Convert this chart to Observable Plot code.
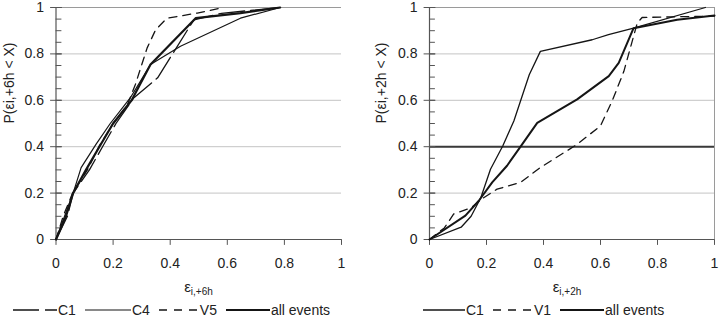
<!DOCTYPE html>
<html><head><meta charset="utf-8">
<script src="https://cdn.jsdelivr.net/npm/d3@7"></script>
<script src="https://cdn.jsdelivr.net/npm/@observablehq/plot@0.6"></script>
<style>
body{margin:0;background:#fff;font-family:"Liberation Sans",Arial,sans-serif;color:#222}
#wrap{position:relative;width:725px;height:321px;overflow:hidden}
.xlab{position:absolute;font-size:15px;line-height:15px;white-space:nowrap;transform:translateX(-50%)}
.xlab sub{font-size:10px;vertical-align:-3px;line-height:0}
.legend{position:absolute;display:flex;align-items:center;font-size:14px;line-height:16px;white-space:nowrap}
.legend .item{display:flex;align-items:center;margin-right:9px}
.legend svg{margin-right:1px;display:block}
</style></head><body>
<div id="wrap"></div>
<script>
// ---- data: left panel (eps i,+6h) ----
const left_C1 = [[0,0],[0.04,0.1],[0.06,0.2],[0.117,0.3],[0.163,0.4],[0.21,0.5],[0.272,0.61],[0.356,0.697],[0.483,0.947],[0.58,0.975],[0.785,1.0]];
const left_C4 = [[0,0],[0.03,0.1],[0.06,0.2],[0.088,0.31],[0.14,0.41],[0.19,0.5],[0.26,0.61],[0.331,0.754],[0.436,0.833],[0.646,0.954],[0.785,1.0]];
const left_V5 = [[0,0],[0.025,0.1],[0.058,0.2],[0.11,0.3],[0.15,0.4],[0.2,0.5],[0.25,0.58],[0.278,0.668],[0.319,0.825],[0.349,0.904],[0.389,0.954],[0.495,0.976],[0.587,1.0]];
const left_all = [[0,0],[0.035,0.1],[0.06,0.2],[0.105,0.3],[0.152,0.4],[0.2,0.5],[0.265,0.6],[0.331,0.754],[0.489,0.954],[0.646,0.976],[0.785,1.0]];
// ---- data: right panel (eps i,+2h) ----
const right_C1 = [[0,0],[0.111,0.053],[0.146,0.1],[0.18,0.18],[0.214,0.303],[0.257,0.403],[0.296,0.511],[0.35,0.71],[0.389,0.811],[0.571,0.861],[0.628,0.883],[0.716,0.911],[0.968,1.0]];
const right_V1 = [[0,0],[0.052,0.05],[0.085,0.11],[0.146,0.137],[0.19,0.18],[0.237,0.217],[0.319,0.246],[0.389,0.31],[0.518,0.41],[0.6,0.49],[0.641,0.597],[0.682,0.725],[0.729,0.933],[0.746,0.957],[0.869,0.96],[1.0,0.963]];
const right_all = [[0,0],[0.126,0.103],[0.173,0.167],[0.22,0.246],[0.272,0.318],[0.325,0.41],[0.378,0.503],[0.518,0.604],[0.629,0.704],[0.664,0.761],[0.716,0.911],[0.869,0.947],[1.0,0.966]];
const right_ref = [0.4];
// ---- ticks & labels ----
const majorTicks = [0, 0.2, 0.4, 0.6, 0.8, 1];
const tickLabels = ["0", "0.2", "0.4", "0.6", "0.8", "1"];
const minorTicks = [0.05,0.1,0.15,0.2,0.25,0.3,0.35,0.4,0.45,0.5,0.55,0.6,0.65,0.7,0.75,0.8,0.85,0.9,0.95,1];
const gridLines = [0.2, 0.4, 0.6, 0.8];
const leftYLabel = "P(\u03b5i,+6h < X)";
const rightYLabel = "P(\u03b5i,+2h < X)";
const leftXSub = "i,+6h";
const rightXSub = "i,+2h";
const leftLegend = [["C1","26,6",1.3,44],["C4",null,1.2,46],["V5","8,7",1.3,40],["all events",null,2.2,44]];
const rightLegend = [["C1",null,1.3,42],["V1","8,7",1.3,40],["all events",null,2.2,44]];

const ink = "#151515";
const tickShape = {draw(ctx, l) { ctx.moveTo(0, 0); ctx.lineTo(0, -l); }};
const fmt = d => tickLabels[majorTicks.indexOf(d)];

function panel({series, width, ml, mr, ylabel, ylabDx, rightBorder, refLine}) {
  const marks = [
    Plot.ruleY(gridLines, {stroke: "#c4c4c4", strokeWidth: 1}),
    Plot.ruleY([1], {stroke: "#9a9a9a", strokeWidth: 1}),
  ];
  if (rightBorder) marks.push(Plot.ruleX([1], {stroke: "#9a9a9a", strokeWidth: 1}));
  if (refLine) marks.push(Plot.ruleY(refLine, {stroke: "#3a3a3a", strokeWidth: 2}));
  marks.push(
    Plot.ruleX([0], {stroke: "#555", strokeWidth: 1.2}),
    Plot.ruleY([0], {stroke: "#555", strokeWidth: 1.2}),
    Plot.vector(minorTicks, {x: 0, y: d => d, rotate: 90, length: 5, anchor: "start", shape: tickShape, stroke: "#555", strokeWidth: 1}),
    Plot.vector(majorTicks, {x: 0, y: d => d, rotate: 90, length: 11, anchor: "middle", shape: tickShape, stroke: "#555", strokeWidth: 1}),
    Plot.vector(majorTicks, {x: d => d, y: 0, rotate: 180, length: 5, anchor: "start", shape: tickShape, stroke: "#555", strokeWidth: 1}),
    Plot.axisX({ticks: majorTicks, tickFormat: fmt, tickSize: 0, tickPadding: 19, fontSize: 14, label: null}),
    Plot.axisY({ticks: majorTicks, tickFormat: fmt, tickSize: 0, tickPadding: 12, fontSize: 14, label: null}),
    Plot.text([ylabel], {text: d => d, frameAnchor: "left", rotate: -90, dx: ylabDx, fontSize: 14, fill: "#222"})
  );
  for (const s of series) {
    marks.push(Plot.line(s.data, {x: d => d[0], y: d => d[1], stroke: ink, strokeWidth: s.w, strokeDasharray: s.dash || undefined, curve: "linear"}));
  }
  return Plot.plot({
    width, height: 272,
    marginLeft: ml, marginRight: mr, marginTop: 7, marginBottom: 33,
    x: {domain: [0, 1]},
    y: {domain: [0, 1]},
    style: {fontFamily: '"Liberation Sans", Arial, sans-serif', fontSize: "14px", color: "#222", background: "#fff", overflow: "visible"},
    marks
  });
}

const wrap = document.getElementById("wrap");
function place(el, left, top) { el.style.position = "absolute"; el.style.left = left + "px"; el.style.top = top + "px"; wrap.appendChild(el); }

const p1 = panel({
  series: [
    {data: left_C4, w: 1.2},
    {data: left_C1, w: 1.3, dash: "26,6"},
    {data: left_V5, w: 1.3, dash: "8,6"},
    {data: left_all, w: 2.2}
  ],
  width: 362, ml: 55.5, mr: 21, ylabel: leftYLabel, ylabDx: -46.5
});
place(p1, 0, 0);
const p2 = panel({
  series: [
    {data: right_C1, w: 1.3},
    {data: right_V1, w: 1.3, dash: "8,6"},
    {data: right_all, w: 2.0}
  ],
  width: 363, ml: 67, mr: 11, ylabel: rightYLabel, ylabDx: -48, rightBorder: true, refLine: right_ref
});
place(p2, 362, 0);

function xlab(sub, cx) {
  const d = document.createElement("div");
  d.className = "xlab";
  d.innerHTML = "\u03b5<sub>" + sub + "</sub>";
  place(d, cx, 279);
}
xlab(leftXSub, 198.5);
xlab(rightXSub, 567);

function legend(items, x) {
  const d = document.createElement("div");
  d.className = "legend";
  for (const [name, dash, w, sw] of items) {
    const it = document.createElement("div");
    it.className = "item";
    it.innerHTML = `<svg width="${sw}" height="10"><line x1="0" x2="${sw}" y1="5" y2="5" stroke="${ink}" stroke-width="${w}"${dash ? ` stroke-dasharray="${dash}"` : ""}/></svg><span>${name}</span>`;
    d.appendChild(it);
  }
  place(d, x, 302);
}
legend(leftLegend, 13);
legend(rightLegend, 423);
</script>
</body></html>
